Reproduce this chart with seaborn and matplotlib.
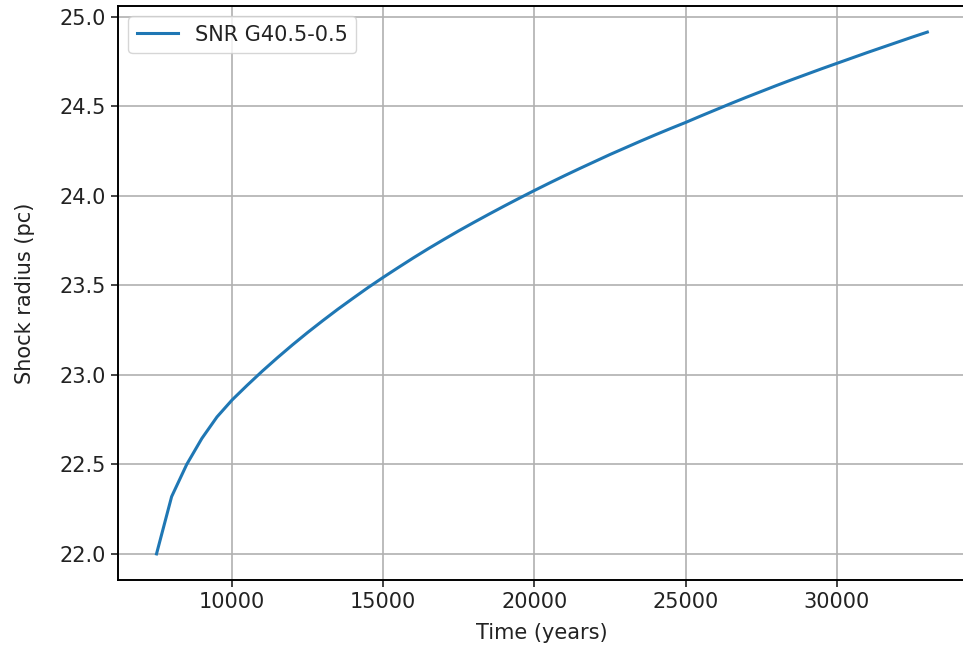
import matplotlib
matplotlib.use('Agg')
import matplotlib.pyplot as plt
import seaborn as sns
import pandas as pd

# shock radius of SNR G40.5-0.5
time_years = [7500, 8000, 8500, 9000, 9500, 10000, 10500, 11000, 11500, 12000,
              12500, 13000, 13500, 14000, 14500, 15000, 15500, 16000, 16500,
              17000, 17500, 18000, 18500, 19000, 19500, 20000, 20500, 21000,
              21500, 22000, 22500, 23000, 23500, 24000, 24500, 25000, 25500,
              26000, 26500, 27000, 27500, 28000, 28500, 29000, 29500, 30000,
              30500, 31000, 31500, 32000, 32500, 33000]
radius_pc = [22.000, 22.320, 22.500, 22.645, 22.765, 22.860, 22.942, 23.021, 23.096, 23.168,
             23.237, 23.303, 23.367, 23.428, 23.488, 23.545, 23.600, 23.654, 23.706,
             23.756, 23.805, 23.852, 23.898, 23.943, 23.987, 24.030, 24.072, 24.113,
             24.153, 24.192, 24.231, 24.268, 24.305, 24.341, 24.376, 24.410, 24.446,
             24.481, 24.516, 24.550, 24.583, 24.616, 24.648, 24.679, 24.710, 24.740,
             24.770, 24.800, 24.829, 24.858, 24.887, 24.915]
label = "SNR G40.5-0.5"

data = pd.DataFrame({"Time (years)": time_years, "Shock radius (pc)": radius_pc})

plt.rcParams['font.size'] = 15
plt.rcParams['text.color'] = '#222222'
plt.rcParams['xtick.color'] = '#222222'
plt.rcParams['ytick.color'] = '#222222'
plt.rcParams['axes.labelcolor'] = '#222222'
plt.rcParams['axes.linewidth'] = 1.4
plt.rcParams['xtick.major.size'] = 5
plt.rcParams['ytick.major.size'] = 5
plt.rcParams['xtick.major.width'] = 1.2
plt.rcParams['ytick.major.width'] = 1.2

fig = plt.figure(figsize=(9.63, 6.46), dpi=100)
ax = fig.add_axes([0.1225, 0.1022, 1.003 - 0.1225, 0.9907 - 0.1022])

sns.lineplot(x="Time (years)", y="Shock radius (pc)", data=data, ax=ax,
             color="#1f77b4", linewidth=2.2, label=label)

ax.set_yticks([22.0, 22.5, 23.0, 23.5, 24.0, 24.5, 25.0])
ax.grid(True, color="#b0b0b0", linewidth=1.2)
ax.yaxis.set_label_coords(-0.098, 0.5)
ax.xaxis.set_label_coords(0.5, -0.075)
ax.legend(loc="upper left", borderaxespad=0.5)

plt.savefig("out.png", dpi=100)
